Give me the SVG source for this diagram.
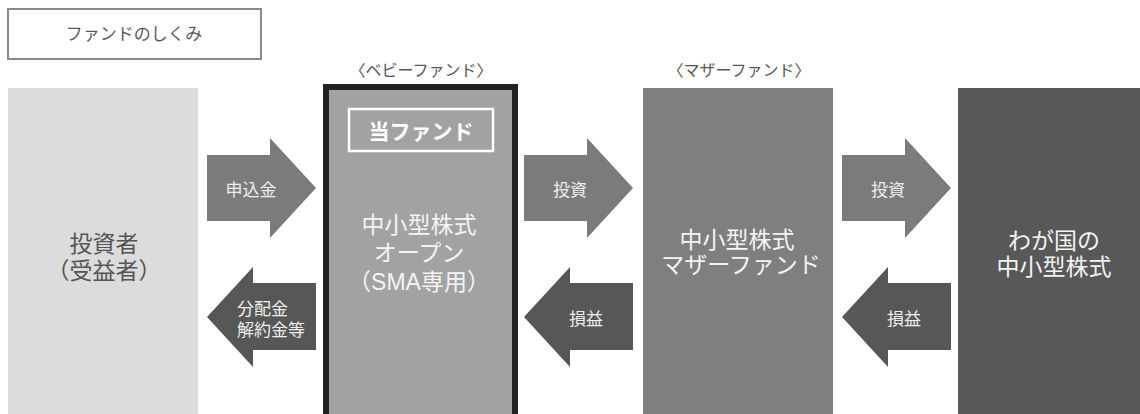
<svg xmlns="http://www.w3.org/2000/svg" width="1140" height="414" viewBox="0 0 1140 414">
<style>
text{font-family:"Liberation Sans","Noto Sans CJK JP",sans-serif;}
.big{font-size:23px;text-anchor:middle;}
.hdr{font-size:16px;fill:#555;text-anchor:middle;}
.lbl{font-size:17px;fill:#eeeeee;}
.w{fill:#f4f4f4;}
.ra{fill:#7b7b7b;}
.la{fill:#575757;}
</style>
<rect width="1140" height="414" fill="#fff"/>
<g id="title">
<rect x="8" y="9" width="253" height="50" fill="#fff" stroke="#8a8a8a" stroke-width="2"/>
<text x="134" y="40" font-size="17" fill="#5a5a5a" text-anchor="middle">ファンドのしくみ</text>
</g>
<g id="investor">
<rect x="8" y="88" width="190" height="326" fill="#dcdcdc"/>
<text class="big" x="104" y="252" fill="#555">投資者</text>
<text class="big" x="104" y="279" fill="#555">（受益者）</text>
</g>
<g id="babyfund">
<text class="hdr" x="421" y="76">〈ベビーファンド〉</text>
<rect x="326" y="87" width="189" height="330" fill="#a2a2a2" stroke="#222" stroke-width="6"/>
<rect x="349" y="109" width="144" height="42" fill="#a2a2a2" stroke="#fff" stroke-width="2.5"/>
<text x="421" y="139" font-size="21" font-weight="bold" fill="#fff" text-anchor="middle">当ファンド</text>
<text class="big w" x="419" y="233">中小型株式</text>
<text class="big w" x="419" y="261">オープン</text>
<text class="big w" x="419" y="290">（SMA専用）</text>
</g>
<g id="motherfund">
<text class="hdr" x="739" y="76">〈マザーファンド〉</text>
<rect x="643" y="88" width="190" height="326" fill="#7f7f7f"/>
<text class="big w" x="737" y="248">中小型株式</text>
<text class="big w" x="741" y="273">マザーファンド</text>
</g>
<g id="stocks">
<rect x="958" y="88" width="182" height="326" fill="#585858"/>
<text class="big w" x="1054" y="249">わが国の</text>
<text class="big w" x="1054" y="275">中小型株式</text>
</g>
<g id="connectors">
<polygon class="ra" points="207,155 270,155 270,138 316,188 270,238 270,221 207,221"/>
<text class="lbl" x="251" y="196" text-anchor="middle">申込金</text>
<polygon class="la" points="207,317 253,267 253,283 316,283 316,350 253,350 253,367"/>
<text class="lbl" x="237" y="315">分配金</text>
<text class="lbl" x="237" y="336">解約金等</text>
<polygon class="ra" points="524,155 587,155 587,138 633,188 587,238 587,221 524,221"/>
<text class="lbl" x="570" y="196" text-anchor="middle">投資</text>
<polygon class="la" points="524,317 570,267 570,283 633,283 633,350 570,350 570,367"/>
<text class="lbl" x="586" y="325" text-anchor="middle">損益</text>
<polygon class="ra" points="842,155 905,155 905,138 951,188 905,238 905,221 842,221"/>
<text class="lbl" x="888" y="196" text-anchor="middle">投資</text>
<polygon class="la" points="842,317 888,267 888,283 951,283 951,350 888,350 888,367"/>
<text class="lbl" x="904" y="325" text-anchor="middle">損益</text>
</g>
</svg>
